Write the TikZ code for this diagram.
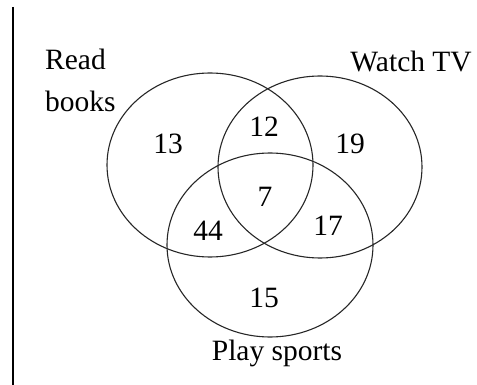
\documentclass[tikz,border=0pt]{standalone}
\usepackage{fontspec}
\setmainfont{Liberation Serif}
\usetikzlibrary{calc,positioning}

\begin{document}
\begin{tikzpicture}[
	%	style def
    x=1pt, y=-1pt,
    set line/.style={line width=1.1pt, color=black!85},
    every node/.style={color=black, font=\fontsize{29.5}{31}\selectfont, inner sep=0pt}
    ]
    \useasboundingbox (0,0) rectangle (477,385);

	% left margin line
	\draw[line width=2pt] (12.5,7) coordinate (top) -- (12.5,385) coordinate (bottom);

	% the three sets
	\coordinate (books) at (210,165);
	\coordinate (tv) at (320,167);
	\coordinate (sports) at (270,245);
	\draw[set line] (books) ellipse [x radius=103, y radius=92];
	\draw[set line] (tv) ellipse [x radius=102, y radius=91];
	\draw[set line] (sports) ellipse [x radius=103, y radius=92];

	% set labels
	\node[anchor=base west] (read) at (45,70) {Read};
	\node[anchor=base west] (bk) at (45,112) {books};
	\node[anchor=base east] (watch) at (472,72) {Watch TV};
	\node[anchor=base] (play) at (277,360) {Play sports};

	% counts
	\node (n13) at (168,144) {13};
	\node (n12) at (264,127) {12};
	\node (n19) at (350,144) {19};
	\node (n7) at (265,197) {7};
	\node (n44) at (208,231) {44};
	\node (n17) at (328,226) {17};
	\node (n15) at (264,298) {15};

\end{tikzpicture}
\end{document}
